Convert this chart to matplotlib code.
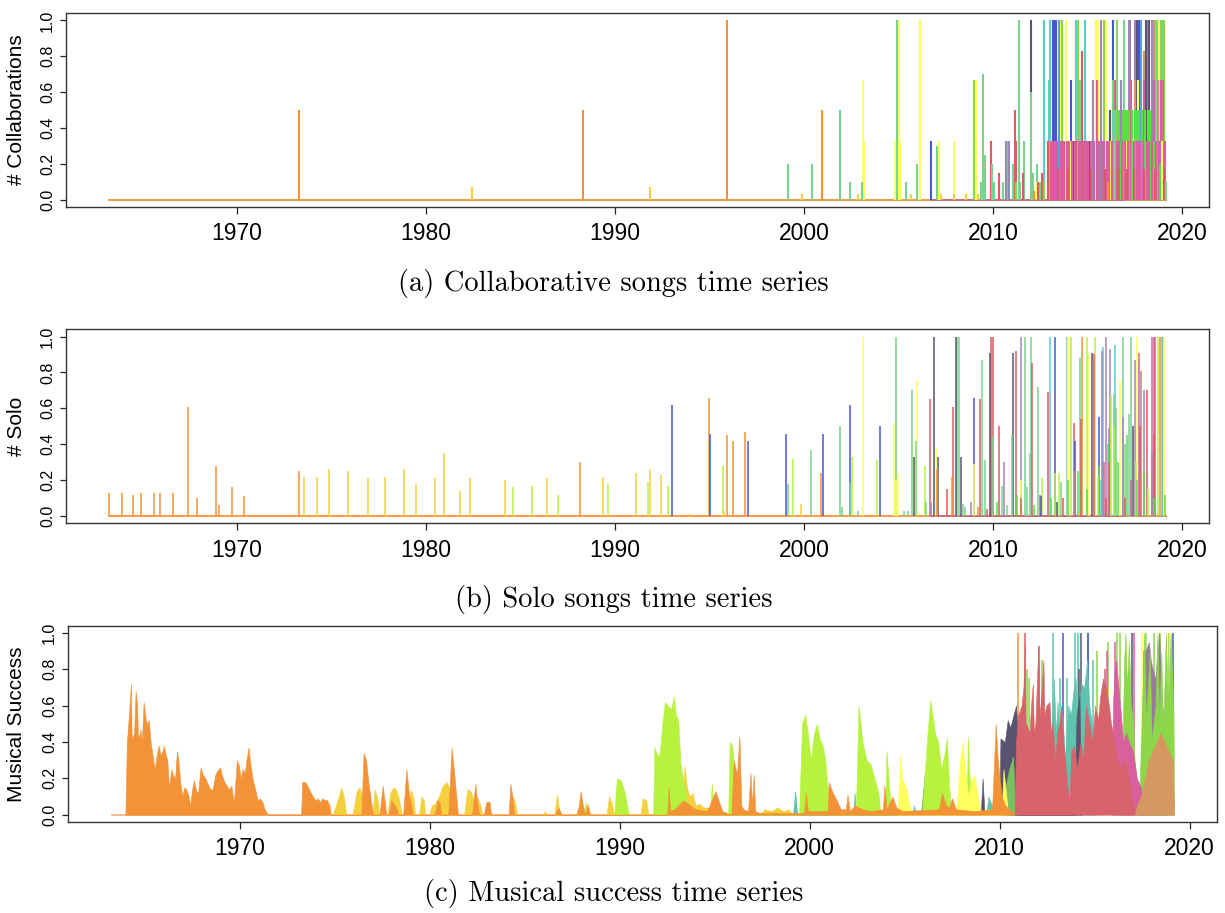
import matplotlib
matplotlib.use("Agg")
import matplotlib.pyplot as plt

# ---------------------------------------------------------------- colours
ORANGE = "#F39237"
GOLD = "#F4D03F"
LIME = "#B7F23E"
GRASS = "#8CD64A"
YELLOW = "#FFFF5E"
GREEN = "#79D291"
BGREEN = "#58E042"
BLUE = "#4656D8"
RED = "#E05A62"
PINK = "#D8609E"
PURPLE = "#9E86B8"
DARK = "#59536F"
CYAN = "#56CFCB"
SKY = "#5A9FE0"
TAN = "#D69761"
CRED = "#D6646A"
TEAL = "#5EC4AE"
MAUVE = "#9A7A9E"

YEAR_START, YEAR_END = 1963.2, 2019.2
XTICKS = [1970, 1980, 1990, 2000, 2010, 2020]
YTICKS = [0.0, 0.2, 0.4, 0.6, 0.8, 1.0]

# ---------------------------------------------------------- (a) collaborations
collab_orange = [(1973.3, 0.5), (1988.3, 0.5), (1995.94, 1.0), (2000.95, 0.5),
                 (2012.2, 0.05), (2016.1, 0.1)]
collab_gold = [(1982.45, 0.07), (1991.84, 0.07), (1999.9, 0.03), (2002.86, 0.03),
               (2005.68, 0.03), (2007.25, 0.03), (2007.93, 0.03), (2008.6, 0.03),
               (2009.2, 0.03)]
collab_yellow = [(2003.11, 0.67), (2003.17, 0.33), (2004.84, 0.33), (2005.03, 1.0),
                 (2005.1, 0.33), (2006.12, 1.0), (2007.13, 0.33), (2007.93, 0.33),
                 (2009.13, 0.67), (2012.35, 0.1), (2013.54, 1.0), (2013.86, 1.0),
                 (2014.1, 0.33), (2015.48, 1.0), (2015.58, 1.0), (2016.0, 1.0),
                 (2016.2, 0.33), (2017.1, 0.33), (2017.66, 0.67), (2018.8, 1.0),
                 (2018.95, 0.33)]
collab_green = [(1999.16, 0.2), (2000.42, 0.2), (2001.93, 0.5), (2002.46, 0.1),
                (2003.07, 0.1), (2004.92, 1.0), (2005.38, 0.1), (2006.01, 0.2),
                (2007.02, 0.3), (2009.38, 0.1), (2009.48, 0.7), (2009.61, 0.25),
                (2009.98, 0.2), (2010.07, 0.1), (2010.55, 0.1), (2010.8, 0.33),
                (2011.05, 0.2), (2011.36, 1.0), (2011.45, 0.1), (2011.66, 0.33),
                (2012.03, 0.6), (2012.12, 0.15), (2012.32, 0.2), (2012.5, 0.1),
                (2014.6, 0.67), (2016.35, 0.67), (2016.45, 0.5), (2016.93, 1.0),
                (2017.03, 0.5), (2018.7, 1.0), (2019.0, 1.0), (2019.15, 0.1)]
collab_grass = [(2009.02, 0.67), (2011.2, 0.1), (2012.7, 0.1), (2013.65, 1.0),
                (2014.49, 1.0), (2014.82, 0.33), (2015.88, 1.0), (2016.59, 1.0),
                (2018.59, 1.0), (2018.91, 1.0), (2019.08, 1.0)]
collab_bgreen = [(2016.6, 0.5), (2016.7, 0.5), (2016.8, 0.33), (2016.9, 0.5),
                 (2017.0, 0.5), (2017.1, 0.5), (2017.2, 0.5), (2017.35, 0.5),
                 (2017.4, 0.33), (2017.5, 0.5), (2017.6, 0.5), (2017.75, 0.5),
                 (2017.85, 0.33), (2017.9, 0.5), (2018.05, 0.5), (2018.2, 0.5),
                 (2018.3, 0.5), (2018.5, 0.33), (2018.85, 0.2)]
collab_blue = [(2006.71, 0.33), (2013.19, 1.0), (2013.29, 1.0), (2013.33, 1.0),
               (2014.15, 0.67), (2014.3, 0.33), (2015.1, 0.33), (2016.34, 1.0),
               (2017.73, 1.0)]
collab_cyan = [(2012.7, 1.0), (2012.95, 0.67), (2013.02, 1.0), (2013.08, 0.33),
               (2014.38, 1.0), (2014.87, 1.0), (2016.41, 0.67)]
collab_sky = [(2013.5, 1.0), (2017.86, 1.0)]
collab_purple = [(2010.7, 0.33), (2010.88, 0.33), (2015.0, 0.33), (2015.3, 0.67),
                 (2015.71, 1.0), (2016.8, 0.67), (2017.22, 1.0), (2017.28, 1.0),
                 (2017.54, 1.0), (2017.6, 0.5), (2018.19, 1.0), (2018.4, 1.0)]
collab_dark = [(2012.0, 1.0), (2016.2, 0.5), (2017.62, 1.0), (2018.1, 1.0),
               (2018.28, 1.0)]
collab_red = [(2009.9, 0.33), (2010.3, 0.15), (2011.15, 0.5), (2011.22, 0.33),
              (2011.6, 0.15), (2012.4, 0.1), (2012.6, 0.15), (2012.9, 0.33),
              (2013.2, 0.33), (2013.45, 0.17), (2013.75, 0.33), (2014.0, 0.17),
              (2014.4, 0.33), (2014.74, 0.83), (2015.2, 0.17), (2015.95, 0.17),
              (2016.6, 0.17), (2017.1, 0.17), (2017.45, 0.17), (2018.0, 0.17),
              (2018.6, 0.17), (2019.05, 0.17)]
collab_pink = [(2013.05, 0.33), (2013.15, 0.33), (2013.3, 0.33), (2013.4, 0.33),
               (2013.6, 0.33), (2013.7, 0.33), (2013.9, 0.33), (2014.05, 0.33),
               (2014.2, 0.33), (2014.35, 0.33), (2014.55, 0.33), (2014.65, 0.33),
               (2014.8, 0.33), (2014.95, 0.33), (2015.05, 0.33), (2015.2, 0.33),
               (2015.35, 0.33), (2015.5, 0.67), (2015.6, 0.33), (2015.75, 0.33),
               (2015.9, 0.33), (2016.05, 0.33), (2016.15, 0.33), (2016.3, 0.33),
               (2016.45, 0.67), (2016.55, 0.33), (2016.7, 0.33), (2016.85, 0.33),
               (2017.0, 0.33), (2017.15, 0.33), (2017.3, 0.67), (2017.45, 0.33),
               (2017.6, 0.33), (2017.7, 0.33), (2017.8, 0.33), (2017.95, 0.33),
               (2018.0, 0.67), (2018.15, 0.33), (2018.25, 0.33), (2018.4, 0.33),
               (2018.55, 0.67), (2018.65, 0.33), (2018.8, 0.33), (2018.9, 0.67),
               (2019.0, 0.67), (2019.1, 0.33)]
collab_tan = [(2017.5, 0.67), (2017.98, 0.83), (2018.5, 1.0), (2018.75, 0.67)]

# ------------------------------------------------------------------ (b) solo
solo_orange = [(1963.26, 0.13), (1963.9, 0.13), (1964.53, 0.12), (1964.95, 0.13),
               (1965.62, 0.13), (1965.95, 0.13), (1966.62, 0.13), (1967.43, 0.61),
               (1967.91, 0.10), (1968.91, 0.28), (1969.06, 0.06), (1969.75, 0.16),
               (1970.4, 0.11), (1973.28, 0.25), (1988.18, 0.30), (1994.97, 0.66),
               (1995.92, 0.45), (1996.24, 0.42), (1996.87, 0.47), (2000.9, 0.24),
               (2007.05, 0.26), (2007.82, 0.22), (2009.2, 0.05), (2014.72, 1.0),
               (2018.98, 1.0)]
solo_gold = [(1973.55, 0.22), (1974.22, 0.22), (1974.89, 0.26), (1975.89, 0.25),
             (1976.93, 0.21), (1977.83, 0.22), (1978.85, 0.26), (1979.48, 0.18),
             (1980.5, 0.21), (1980.94, 0.35), (1981.82, 0.14), (1982.34, 0.21),
             (1984.18, 0.2), (1986.43, 0.21), (1989.39, 0.22), (1991.13, 0.24),
             (1991.86, 0.26), (1992.45, 0.23), (1993.9, 0.01), (1995.8, 0.03),
             (1999.87, 0.07)]
solo_lime = [(1984.61, 0.16), (1985.62, 0.17), (1987.01, 0.12), (1989.62, 0.18),
             (1991.76, 0.19), (1992.81, 0.17), (1995.71, 0.28), (1999.45, 0.32),
             (2002.55, 0.33), (2003.89, 0.31), (2006.39, 0.28), (2012.6, 0.21),
             (2013.3, 0.24), (2013.5, 0.24), (2014.11, 1.0), (2014.97, 1.0),
             (2015.42, 1.0), (2015.55, 0.22), (2016.26, 0.68), (2016.4, 0.5),
             (2017.55, 0.3), (2018.2, 0.15), (2018.75, 1.0)]
solo_blue = [(1993.02, 0.62), (1995.04, 0.46), (1997.03, 0.42), (1999.03, 0.46),
             (2001.03, 0.46), (2002.46, 0.62), (2004.02, 0.5), (2009.0, 0.66),
             (2012.54, 0.11), (2013.31, 1.0), (2014.35, 0.42), (2015.6, 0.55)]
solo_green = [(1999.14, 0.18), (2000.4, 0.37), (2001.93, 0.5), (2002.0, 0.05),
              (2002.42, 0.19), (2002.85, 0.03), (2004.88, 1.0), (2005.3, 0.03),
              (2005.5, 0.03), (2005.74, 0.7), (2005.93, 0.42), (2006.45, 0.08),
              (2008.12, 1.0), (2008.2, 1.0), (2008.4, 0.07), (2008.55, 0.05),
              (2009.4, 0.87), (2009.57, 0.31), (2009.99, 0.44), (2010.5, 0.17),
              (2010.75, 0.06), (2011.0, 0.46), (2011.7, 1.0), (2011.78, 0.16),
              (2011.95, 0.35), (2012.0, 1.0), (2012.39, 0.72), (2013.6, 0.19),
              (2013.94, 1.0), (2014.6, 0.88), (2016.4, 0.68), (2016.5, 0.6),
              (2016.91, 1.0), (2017.0, 0.4), (2017.2, 0.57), (2017.33, 1.0)]
solo_yellow = [(2003.11, 1.0), (2004.77, 0.52), (2004.9, 0.2), (2005.0, 0.24),
               (2005.99, 0.76), (2007.0, 0.38), (2009.0, 0.29), (2011.5, 0.2),
               (2013.98, 1.0), (2015.1, 0.9), (2016.72, 0.76), (2017.65, 1.0),
               (2019.03, 1.0)]
solo_dark = [(2005.83, 0.33), (2006.88, 1.0), (2007.1, 0.33), (2008.06, 1.0),
             (2008.3, 0.33), (2009.86, 0.91), (2011.06, 0.91), (2013.4, 0.08),
             (2015.27, 0.91), (2017.4, 0.5)]
solo_red = [(2006.69, 0.65), (2007.59, 0.15), (2007.91, 0.61), (2009.33, 0.65),
            (2009.7, 0.04), (2009.9, 1.0), (2009.99, 1.0), (2010.3, 0.5),
            (2011.25, 0.92), (2011.5, 0.1), (2012.07, 0.85), (2012.5, 0.12),
            (2012.93, 0.69), (2013.7, 0.1), (2014.28, 0.52), (2014.64, 0.54),
            (2015.33, 0.9), (2016.0, 0.1), (2017.0, 0.1), (2017.8, 0.5),
            (2018.15, 0.7), (2018.5, 0.46), (2018.6, 1.0)]
solo_purple = [(2006.75, 0.08), (2008.83, 0.08), (2010.6, 0.3), (2011.48, 1.0),
               (2015.79, 0.92), (2016.0, 1.0), (2016.13, 0.49), (2016.21, 0.93),
               (2016.9, 0.55), (2017.5, 0.87), (2017.85, 0.81), (2017.98, 0.7),
               (2018.4, 0.35)]
solo_pink = [(2015.9, 0.3), (2016.15, 0.3), (2017.3, 0.2), (2017.72, 0.91),
             (2018.43, 1.0), (2018.5, 1.0)]
solo_cyan = [(2013.0, 1.0), (2015.7, 0.2), (2015.85, 0.94), (2016.48, 0.95),
             (2018.97, 1.0)]
solo_tan = [(2014.3, 0.25), (2018.85, 1.0)]
solo_bgreen = [(2010.2, 0.08), (2011.3, 0.12), (2012.2, 0.06), (2013.1, 0.1),
               (2014.0, 0.2), (2014.5, 0.25), (2015.0, 0.15), (2015.6, 0.28),
               (2016.1, 0.4), (2016.6, 0.3), (2017.1, 0.45), (2017.6, 0.2),
               (2018.0, 0.25), (2018.5, 0.1), (2019.1, 0.12)]

# ------------------------------------------------------- (c) musical success
succ_orange = [(1963.98, 0), (1964.06, 0.4), (1964.17, 0.55), (1964.27, 0.72),
               (1964.31, 0.44), (1964.35, 0.42), (1964.44, 0.45), (1964.52, 0.68),
               (1964.6, 0.6), (1964.64, 0.44), (1964.69, 0.42), (1964.77, 0.47),
               (1964.85, 0.4), (1964.94, 0.62), (1965.02, 0.55), (1965.1, 0.5),
               (1965.21, 0.52), (1965.31, 0.4), (1965.42, 0.32), (1965.52, 0.25),
               (1965.65, 0.34), (1965.73, 0.38), (1965.83, 0.33), (1965.94, 0.35),
               (1966.0, 0.38), (1966.1, 0.33), (1966.19, 0.3), (1966.27, 0.15),
               (1966.4, 0.25), (1966.48, 0.22), (1966.6, 0.2), (1966.69, 0.35),
               (1966.77, 0.3), (1966.88, 0.17), (1966.98, 0.1), (1967.08, 0.15),
               (1967.19, 0.14), (1967.31, 0.1), (1967.4, 0.05), (1967.48, 0.13),
               (1967.58, 0.19), (1967.71, 0.13), (1967.81, 0.12), (1967.94, 0.26),
               (1968.06, 0.22), (1968.19, 0.2), (1968.31, 0.17), (1968.44, 0.14),
               (1968.58, 0.14), (1968.71, 0.22), (1968.81, 0.24), (1968.96, 0.26),
               (1969.06, 0.22), (1969.19, 0.18), (1969.31, 0.16), (1969.44, 0.14),
               (1969.56, 0.16), (1969.69, 0.06), (1969.77, 0.18), (1969.85, 0.3),
               (1969.96, 0.27), (1970.04, 0.2), (1970.15, 0.25), (1970.27, 0.23),
               (1970.35, 0.3), (1970.46, 0.37), (1970.56, 0.28), (1970.67, 0.2),
               (1970.79, 0.15), (1970.94, 0.08), (1971.06, 0.09), (1971.19, 0.07),
               (1971.31, 0.03), (1971.48, 0),
               (1973.23, 0), (1973.29, 0.18), (1973.44, 0.18), (1973.56, 0.16),
               (1973.69, 0.13), (1973.85, 0.1), (1973.98, 0.08), (1974.1, 0.09),
               (1974.23, 0.07), (1974.35, 0.09), (1974.48, 0.08), (1974.6, 0.08),
               (1974.73, 0.05), (1974.79, 0),
               (1976.4, 0), (1976.52, 0.34), (1976.65, 0.3), (1976.77, 0.18),
               (1976.94, 0.05), (1977.02, 0), (1977.35, 0), (1977.52, 0.16),
               (1977.65, 0.06), (1977.71, 0), (1977.85, 0), (1977.98, 0.08),
               (1978.1, 0.06), (1978.23, 0.04), (1978.35, 0), (1978.6, 0),
               (1978.77, 0.25), (1978.9, 0.12), (1979.02, 0.05), (1979.1, 0),
               (1980.27, 0), (1980.4, 0.08), (1980.52, 0.07), (1980.6, 0),
               (1980.98, 0), (1981.15, 0.37), (1981.27, 0.25), (1981.4, 0.1),
               (1981.48, 0), (1982.23, 0), (1982.4, 0.17), (1982.52, 0.05),
               (1982.6, 0), (1982.85, 0), (1982.98, 0.07), (1983.15, 0.07),
               (1983.23, 0), (1984.15, 0), (1984.25, 0.17), (1984.35, 0.1),
               (1984.44, 0), (1986.6, 0), (1986.77, 0.04), (1986.94, 0),
               (1987.71, 0), (1987.85, 0.05), (1987.94, 0.13), (1988.06, 0.05),
               (1988.19, 0), (1988.31, 0.06), (1988.44, 0),
               (1992.5, 0), (1992.58, 0.15), (1992.65, 0.02), (1992.9, 0.03),
               (1993.35, 0.08), (1993.6, 0.06), (1994.0, 0.03), (1994.6, 0.02),
               (1995.04, 0.13), (1995.2, 0.08), (1995.4, 0.02), (1995.88, 0),
               (1996.0, 0.3), (1996.17, 0.22), (1996.3, 0.43), (1996.4, 0.05),
               (1996.51, 0.03), (1996.76, 0.02), (1996.88, 0.23), (1996.97, 0.05),
               (1997.05, 0.22), (1997.13, 0.02), (1997.34, 0.01), (1999.7, 0.01),
               (1999.8, 0.12), (1999.9, 0.02), (2000.94, 0.02), (2001.0, 0.18),
               (2001.21, 0.12), (2001.42, 0.08), (2001.63, 0.03), (2001.9, 0.03),
               (2001.99, 0.11), (2002.11, 0.02), (2002.36, 0.05), (2002.78, 0.03),
               (2003.2, 0.02), (2003.85, 0.03), (2003.93, 0.16), (2004.04, 0.03),
               (2004.35, 0.1), (2004.56, 0.04), (2004.87, 0.02), (2006.8, 0.03),
               (2006.97, 0.12), (2007.18, 0.05), (2007.35, 0.04), (2007.49, 0.09),
               (2007.7, 0.03), (2008.64, 0.02), (2009.6, 0.03), (2009.79, 0.5),
               (2009.9, 0.3), (2010.1, 0.1), (2010.3, 0.05), (2010.8, 0.0)]
succ_gold = [(1974.9, 0), (1975.15, 0.08), (1975.35, 0.15), (1975.48, 0.1),
             (1975.6, 0), (1975.94, 0), (1976.15, 0.13), (1976.31, 0.15),
             (1976.46, 0.1), (1976.56, 0), (1976.98, 0), (1977.1, 0.14),
             (1977.23, 0.1), (1977.35, 0), (1977.77, 0), (1977.92, 0.12),
             (1978.08, 0.15), (1978.23, 0.14), (1978.4, 0.08), (1978.52, 0),
             (1978.85, 0), (1979.0, 0.14), (1979.13, 0.1), (1979.23, 0),
             (1979.44, 0), (1979.56, 0.1), (1979.69, 0.08), (1979.77, 0),
             (1979.98, 0), (1980.1, 0.05), (1980.27, 0.06), (1980.48, 0.1),
             (1980.69, 0.16), (1980.9, 0.18), (1981.02, 0.15), (1981.25, 0.12),
             (1981.35, 0.05), (1981.48, 0), (1981.81, 0), (1981.98, 0.14),
             (1982.15, 0.13), (1982.31, 0.08), (1982.48, 0.1), (1982.65, 0.06),
             (1982.77, 0), (1984.27, 0), (1984.4, 0.1), (1984.52, 0.05),
             (1984.6, 0), (1985.98, 0), (1986.06, 0.02), (1986.19, 0),
             (1986.56, 0), (1986.69, 0.11), (1986.81, 0.03), (1986.9, 0),
             (1989.3, 0), (1989.44, 0.1), (1989.6, 0.06), (1989.7, 0),
             (1991.1, 0), (1991.2, 0.09), (1991.4, 0.08), (1991.5, 0),
             (1993.26, 0), (1993.41, 0.27), (1993.54, 0.15), (1993.68, 0.1),
             (1993.83, 0.12), (1994.0, 0.05), (1994.2, 0.06), (1994.41, 0.04),
             (1994.62, 0.04), (1994.83, 0.02), (1995.04, 0),
             (1997.4, 0), (1997.6, 0.03), (1998.0, 0.02), (1998.3, 0.04),
             (1998.6, 0.02), (1998.9, 0.03), (1999.1, 0)]
succ_lime = [(1988.1, 0), (1988.2, 0.07), (1988.3, 0),
             (1989.71, 0), (1989.85, 0.2), (1990.06, 0.19), (1990.27, 0.12),
             (1990.44, 0.02), (1990.52, 0),
             (1991.76, 0), (1991.82, 0.37), (1992.01, 0.32), (1992.11, 0.34),
             (1992.24, 0.5), (1992.38, 0.62), (1992.53, 0.6), (1992.7, 0.58),
             (1992.85, 0.65), (1992.95, 0.55), (1993.08, 0.52), (1993.2, 0.28),
             (1993.33, 0.2), (1993.47, 0.12), (1993.62, 0.05), (1993.74, 0),
             (1994.75, 0), (1994.85, 0.17), (1994.95, 0),
             (1995.71, 0), (1995.79, 0.4), (1995.92, 0.38), (1996.09, 0.15),
             (1996.19, 0),
             (1999.44, 0), (1999.6, 0.5), (1999.75, 0.55), (1999.9, 0.45),
             (2000.06, 0.3), (2000.23, 0.45), (2000.38, 0.5), (2000.52, 0.42),
             (2000.69, 0.38), (2000.82, 0.3), (2000.94, 0.15), (2001.0, 0),
             (2002.43, 0), (2002.57, 0.6), (2002.68, 0.5), (2002.78, 0.4),
             (2002.99, 0.3), (2003.2, 0.28), (2003.41, 0.2), (2003.62, 0.12),
             (2003.72, 0), (2003.96, 0), (2004.04, 0.35), (2004.15, 0.2),
             (2004.3, 0),
             (2005.92, 0), (2006.13, 0.35), (2006.34, 0.63), (2006.46, 0.55),
             (2006.59, 0.45), (2006.76, 0.4), (2006.92, 0.25), (2007.07, 0.32),
             (2007.22, 0.42), (2007.34, 0.15), (2007.49, 0),
             (2008.25, 0), (2008.33, 0.43), (2008.42, 0.2), (2008.55, 0)]
succ_yellow = [(2004.62, 0), (2004.77, 0.33), (2004.87, 0.2), (2005.08, 0.15),
               (2005.25, 0.05), (2005.5, 0),
               (2007.7, 0), (2007.91, 0.3), (2008.05, 0.4), (2008.18, 0.25),
               (2008.33, 0.1), (2008.54, 0.2), (2008.68, 0.22), (2008.85, 0.1),
               (2009.02, 0), (2010.1, 0), (2010.2, 0.25), (2010.35, 0.1),
               (2010.45, 0)]
succ_teal = [(1999.12, 0), (1999.23, 0.13), (1999.35, 0),
             (2002.3, 0), (2002.36, 0.12), (2002.45, 0),
             (2005.4, 0), (2005.5, 0.05), (2005.6, 0),
             (2009.3, 0), (2009.4, 0.1), (2009.6, 0.05), (2009.7, 0),
             (2012.6, 0), (2012.75, 0.5), (2012.85, 0.75), (2012.95, 0.45),
             (2013.05, 0.62), (2013.15, 0.4), (2013.3, 0.55), (2013.45, 0.3),
             (2013.6, 0.6), (2013.75, 0.55), (2013.9, 0.7), (2014.0, 0.75),
             (2014.1, 0.5), (2014.3, 0.72), (2014.45, 0.7), (2014.6, 0.85),
             (2014.72, 0.6), (2014.85, 0.5), (2015.0, 0.4), (2015.1, 0)]
succ_green = [(2005.85, 0), (2006.05, 0.22), (2006.3, 0.3), (2006.6, 0.2),
              (2006.9, 0.1), (2007.1, 0), (2010.2, 0), (2010.3, 0.15),
              (2010.5, 0.25), (2010.7, 0.32), (2010.85, 0)]
succ_dark = [(2009.0, 0), (2009.1, 0.2), (2009.2, 0),
             (2009.98, 0), (2010.04, 0.42), (2010.27, 0.4), (2010.42, 0.52),
             (2010.56, 0.48), (2010.73, 0.55), (2010.86, 0.6), (2010.94, 0.45),
             (2011.0, 0), (2013.9, 0), (2014.05, 0.55), (2014.2, 0.65),
             (2014.3, 0)]
succ_red = [(2010.79, 0), (2010.86, 0.4), (2010.98, 0.55), (2011.15, 0.6),
            (2011.25, 0.7), (2011.32, 0.95), (2011.36, 0.5), (2011.4, 0.5),
            (2011.57, 0.45), (2011.65, 0.6), (2011.74, 0.72), (2011.8, 0.45),
            (2011.88, 0.5), (2012.03, 0.93), (2012.1, 0.55), (2012.15, 0.6),
            (2012.3, 0.85), (2012.35, 0.55), (2012.45, 0.6), (2012.62, 0.62),
            (2012.7, 0.45), (2012.78, 0.5), (2012.93, 0.3), (2013.03, 0.45),
            (2013.14, 0.5), (2013.24, 0.6), (2013.35, 0.4), (2013.49, 0.25),
            (2013.66, 0.05), (2013.77, 0.35), (2013.91, 0.38), (2014.08, 0.25),
            (2014.25, 0.4), (2014.39, 0.3), (2014.54, 0.6), (2014.71, 0.5),
            (2014.87, 0.4), (2015.02, 0.6), (2015.17, 0.52), (2015.29, 0.65),
            (2015.44, 0.75), (2015.59, 0.7), (2015.75, 0.6), (2015.86, 0.5),
            (2015.96, 0.45), (2016.17, 0.3), (2016.38, 0.25), (2016.59, 0.3),
            (2016.8, 0.2), (2017.01, 0.05), (2017.11, 0)]
succ_pink = [(2015.9, 0), (2015.96, 0.6), (2016.05, 0.8), (2016.13, 0.85),
             (2016.25, 0.7), (2016.38, 0.55), (2016.5, 0.4), (2016.65, 0.45),
             (2016.8, 0.4), (2017.01, 0.35), (2017.22, 0.2), (2017.43, 0.15),
             (2017.6, 0)]
succ_grass = [(2016.4, 0), (2016.55, 0.85), (2016.62, 1.0), (2016.7, 0.7),
              (2016.8, 0.95), (2016.9, 0.6), (2017.0, 0.55), (2017.1, 0.3),
              (2017.2, 0.2), (2017.35, 0.1), (2017.5, 0.6), (2017.6, 1.0),
              (2017.7, 0.5), (2017.9, 0.9), (2018.0, 0.4), (2018.2, 0.6),
              (2018.3, 1.0), (2018.4, 0.5), (2018.5, 0.9), (2018.6, 0.45),
              (2018.75, 1.0), (2018.85, 0.6), (2019.0, 1.0), (2019.15, 0.55),
              (2019.18, 0)]
succ_mauve = [(2017.4, 0), (2017.55, 0.8), (2017.65, 0.9), (2017.75, 0.92),
              (2017.85, 0.95), (2017.95, 0.85), (2018.05, 0.8), (2018.2, 0.75),
              (2018.3, 0.9), (2018.4, 1.0), (2018.5, 0.7), (2018.6, 0.55),
              (2018.7, 0.5), (2018.8, 0.35), (2018.9, 0.3), (2019.0, 0)]
succ_tan = [(2017.11, 0), (2017.22, 0.05), (2017.43, 0.1), (2017.64, 0.2),
            (2017.85, 0.3), (2018.05, 0.35), (2018.26, 0.4), (2018.47, 0.45),
            (2018.68, 0.4), (2018.89, 0.35), (2019.1, 0.3), (2019.18, 0)]
# thin single-week peaks behind the areas
succ_peaks_teal = [(2012.8, 1.0), (2013.2, 0.75), (2013.55, 0.75), (2013.97, 1.0),
                   (2014.1, 1.0), (2014.67, 1.0), (2014.9, 0.85)]
succ_peaks_grass = [(2011.45, 0.8), (2011.55, 0.75), (2012.25, 0.85),
                    (2015.1, 0.9), (2015.7, 0.95), (2016.2, 1.0), (2016.35, 1.0),
                    (2017.7, 1.0), (2018.1, 1.0), (2018.45, 1.0), (2018.9, 1.0)]
succ_peaks_pink = [(2015.65, 0.9), (2016.05, 0.95), (2017.05, 1.0), (2017.6, 0.9)]
succ_peaks_red = [(2011.32, 1.0), (2012.05, 0.93), (2015.55, 0.8)]
succ_peaks_dark = [(2014.3, 1.0), (2014.15, 0.8), (2016.95, 1.0)]
succ_peaks_yellow = [(2017.5, 1.0), (2018.95, 1.0)]
succ_peaks_blue = [(2013.35, 1.0), (2014.66, 1.0), (2019.13, 1.0)]
succ_peaks_orange = [(2010.94, 1.0), (2012.55, 0.3)]


def style_axes(ax, xlim):
    ax.set_xlim(*xlim)
    ax.set_ylim(-0.04, 1.04)
    ax.set_xticks(XTICKS)
    ax.set_yticks(YTICKS)
    ax.set_yticklabels([f"{v:.1f}" for v in YTICKS], rotation=90, va="center",
                       fontsize=11.5, family="Liberation Sans")
    ax.set_xticklabels([str(v) for v in XTICKS], fontsize=16.5,
                       family="Liberation Sans")
    ax.tick_params(axis="x", length=5, width=0.9, pad=6, color="#222222")
    ax.tick_params(axis="y", length=4.5, width=0.9, pad=3.5, color="#222222")
    for sp in ax.spines.values():
        sp.set_linewidth(1.0)
        sp.set_color("#333333")


def layered_spikes(ax, groups, lw=1.1):
    """Draw all spikes tallest first so that shorter ones stay visible."""
    items = []
    for pairs, col in groups:
        for x, y in pairs:
            items.append((y, x, col))
    items.sort(key=lambda t: -t[0])
    ax.vlines([t[1] for t in items], 0, [t[0] for t in items],
              colors=[t[2] for t in items], linewidth=lw)


def spikes(ax, pairs, color, lw=1.1, z=2):
    ax.vlines([p[0] for p in pairs], 0, [p[1] for p in pairs],
              colors=color, linewidth=lw, zorder=z)


def area(ax, pts, color, z=3):
    xs = [p[0] for p in pts]
    ys = [p[1] for p in pts]
    ax.fill_between(xs, 0, ys, color=color, linewidth=0.4, edgecolor=color,
                    zorder=z)


def ylabel(ax_y0, ax_h, text):
    fig.text(17 / 1225, ax_y0 + ax_h / 2, text, rotation=90, ha="center",
             va="center", fontsize=15, family="Liberation Sans")


fig = plt.figure(figsize=(12.25, 9.13), dpi=100)
XL = (1960.96, 2021.44)

# ---------------------------------------------------------------- panel (a)
axa = fig.add_axes([0.0539, 0.7733, 0.9331, 0.2122])
axa.hlines(0, YEAR_START, YEAR_END, color=ORANGE, linewidth=1.3)
axa.hlines(0, 2006.7, YEAR_END, color="#C86A7A", linewidth=1.3)
axa.hlines(0, 2017.0, YEAR_END, color=TAN, linewidth=1.5)
layered_spikes(axa, [(collab_orange, ORANGE), (collab_gold, GOLD),
                     (collab_green, GREEN), (collab_yellow, YELLOW),
                     (collab_grass, GRASS), (collab_blue, BLUE),
                     (collab_cyan, CYAN), (collab_sky, SKY),
                     (collab_purple, PURPLE), (collab_dark, DARK),
                     (collab_tan, TAN), (collab_bgreen, BGREEN),
                     (collab_red, RED), (collab_pink, PINK)], lw=1.5)
style_axes(axa, XL)
ylabel(0.7733, 0.2122, "# Collaborations")

# ---------------------------------------------------------------- panel (b)
axb = fig.add_axes([0.0539, 0.4268, 0.9331, 0.2125])
axb.hlines(0, YEAR_START, YEAR_END, color=ORANGE, linewidth=1.3)
axb.hlines(0, 2006.7, YEAR_END, color="#C86A7A", linewidth=1.3)
axb.hlines(0, 2017.0, YEAR_END, color=TAN, linewidth=1.5)
layered_spikes(axb, [(solo_bgreen, BGREEN), (solo_orange, ORANGE),
                     (solo_gold, GOLD), (solo_lime, LIME), (solo_blue, BLUE),
                     (solo_green, GREEN), (solo_yellow, YELLOW),
                     (solo_dark, DARK), (solo_red, RED), (solo_purple, PURPLE),
                     (solo_pink, PINK), (solo_cyan, CYAN), (solo_tan, TAN)],
               lw=1.1)
style_axes(axb, XL)
ylabel(0.4268, 0.2125, "# Solo")

# ---------------------------------------------------------------- panel (c)
axc = fig.add_axes([0.0555, 0.0997, 0.938, 0.215])
axc.hlines(0, YEAR_START, 2010.8, color="#F7B888", linewidth=1.3, zorder=1)
axc.hlines(0, 2006.8, 2010.8, color="#C86A7A", linewidth=1.3, zorder=1)
for pairs, col in [(succ_peaks_teal, TEAL), (succ_peaks_grass, GRASS),
                   (succ_peaks_pink, PINK), (succ_peaks_red, CRED),
                   (succ_peaks_dark, DARK), (succ_peaks_yellow, YELLOW),
                   (succ_peaks_blue, BLUE), (succ_peaks_orange, ORANGE)]:
    spikes(axc, pairs, col, lw=1.1, z=2)
for pts, col in [(succ_teal, TEAL), (succ_dark, DARK), (succ_green, "#77C060"),
                 (succ_gold, GOLD), (succ_lime, LIME), (succ_yellow, YELLOW),
                 (succ_orange, ORANGE), (succ_mauve, MAUVE), (succ_grass, GRASS),
                 (succ_pink, PINK), (succ_red, CRED), (succ_tan, TAN)]:
    area(axc, pts, col, z=3)
style_axes(axc, XL)
ylabel(0.0997, 0.215, "Musical Success")

# ---------------------------------------------------------------- captions
cap = dict(fontsize=20.5, family="cmr10", ha="center", va="center")
fig.text(0.501, 0.690, "(a) Collaborative songs time series", **cap)
fig.text(0.501, 0.343, "(b) Solo songs time series", **cap)
fig.text(0.501, 0.021, "(c) Musical success time series", **cap)

fig.savefig("out.png", dpi=100)
